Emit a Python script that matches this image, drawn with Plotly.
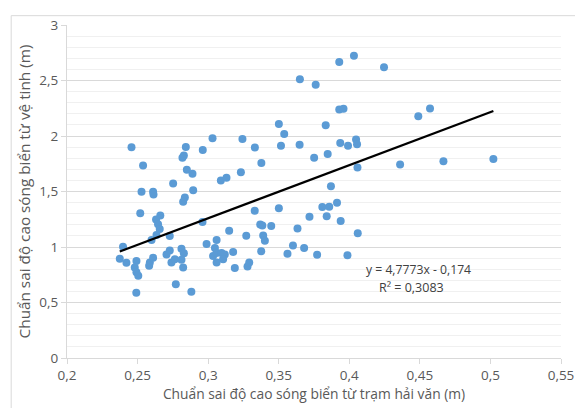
import plotly.graph_objects as go

# Observed data (station std anomaly vs satellite std anomaly)
station_sd = [
    0.2457, 0.2539, 0.2842, 0.2828, 0.2818, 0.2962, 0.2849, 0.2889, 0.2752, 0.2528,
    0.2610, 0.2613, 0.2894, 0.2835, 0.2823, 0.2519, 0.2661, 0.2631, 0.2645, 0.2657,
    0.2634, 0.2599, 0.2728, 0.2960, 0.2989, 0.2397, 0.2374, 0.2421, 0.2492, 0.2480,
    0.2492, 0.2505, 0.2587, 0.2610, 0.2582, 0.2705, 0.2728, 0.2740, 0.2764, 0.2811,
    0.2828, 0.2811, 0.2823, 0.2771, 0.2881, 0.2491, 0.3031,
    0.3243, 0.3331, 0.3501, 0.3539, 0.3516, 0.3648, 0.3751, 0.3847, 0.3377, 0.3232,
    0.3090, 0.3130, 0.3870, 0.3330, 0.3501, 0.3809, 0.3858, 0.3913, 0.3840, 0.3718,
    0.3939, 0.4060, 0.3633, 0.3369, 0.3384, 0.3447, 0.3149, 0.3390, 0.3402, 0.3270,
    0.3060, 0.3601, 0.3680, 0.3562, 0.3772, 0.3987, 0.3376, 0.3177, 0.3048, 0.3035,
    0.3060, 0.3095, 0.3118, 0.3106, 0.3060, 0.3189, 0.3279, 0.3291,
    0.3929, 0.4033, 0.4246, 0.3650, 0.3762, 0.3929, 0.3959, 0.4489, 0.4572, 0.3833,
    0.3936, 0.3991, 0.4048, 0.4055, 0.4058, 0.4360, 0.4667, 0.5021,
]
satellite_sd = [
    1.899, 1.734, 1.901, 1.825, 1.803, 1.875, 1.697, 1.660, 1.572, 1.498,
    1.498, 1.472, 1.511, 1.445, 1.408, 1.304, 1.283, 1.247, 1.206, 1.162,
    1.108, 1.064, 1.099, 1.225, 1.026, 1.003, 0.895, 0.857, 0.875, 0.816,
    0.772, 0.741, 0.860, 0.904, 0.831, 0.932, 0.969, 0.860, 0.889, 0.985,
    0.943, 0.886, 0.816, 0.664, 0.596, 0.588, 1.980,
    1.972, 1.897, 2.108, 2.018, 1.912, 1.921, 1.803, 1.838, 1.757, 1.674,
    1.599, 1.625, 1.548, 1.326, 1.348, 1.360, 1.362, 1.399, 1.276, 1.272,
    1.235, 1.123, 1.167, 1.202, 1.193, 1.190, 1.146, 1.103, 1.057, 1.101,
    1.064, 1.013, 0.991, 0.939, 0.930, 0.925, 0.962, 0.956, 0.991, 0.918,
    0.947, 0.947, 0.932, 0.889, 0.860, 0.810, 0.825, 0.860,
    2.667, 2.722, 2.620, 2.511, 2.462, 2.239, 2.246, 2.178, 2.248, 2.096,
    1.936, 1.912, 1.969, 1.925, 1.717, 1.743, 1.772, 1.792,
]

# Linear trendline as displayed on the chart
SLOPE = 4.7773
INTERCEPT = -0.174
equation_text = "y = 4,7773x - 0,174"
r2_text = "R² = 0,3083"

x_tick_vals = [0.2, 0.25, 0.3, 0.35, 0.4, 0.45, 0.5, 0.55]
x_tick_text = ["0,2", "0,25", "0,3", "0,35", "0,4", "0,45", "0,5", "0,55"]
y_tick_vals = [0, 0.5, 1, 1.5, 2, 2.5, 3]
y_tick_text = ["0", "0,5", "1", "1,5", "2", "2,5", "3"]

x_title = "Chuẩn sai độ cao sóng biển từ trạm hải văn (m)"
y_title = "Chuẩn sai độ cao sóng biển từ vệ tinh (m)"

FONT = "Open Sans, Noto Sans, DejaVu Sans, sans-serif"
TEXT_COLOR = "#595959"

x_min = min(station_sd)
x_max = max(station_sd)
trend_x = [x_min, x_max]
trend_y = [SLOPE * v + INTERCEPT for v in trend_x]

fig = go.Figure()
fig.add_trace(go.Scatter(
    x=station_sd, y=satellite_sd, mode="markers",
    marker=dict(color="#5B9BD5", size=8, line=dict(width=0)),
    showlegend=False, hoverinfo="skip",
))
fig.add_trace(go.Scatter(
    x=trend_x, y=trend_y, mode="lines",
    line=dict(color="#000000", width=2.25),
    showlegend=False, hoverinfo="skip",
))

fig.add_annotation(x=0.4487, y=0.798, xref="x", yref="y", text=equation_text,
                   showarrow=False, font=dict(family=FONT, size=12.2, color="#404040"))
fig.add_annotation(x=0.4441, y=0.634, xref="x", yref="y", text=r2_text,
                   showarrow=False, font=dict(family=FONT, size=12.5, color="#404040"))

# outer chart border
fig.add_shape(type="rect", xref="paper", yref="paper",
              x0=-0.113, x1=1.033, y0=-0.16, y1=1.028,
              line=dict(color="#d9d9d9", width=1), layer="below")

# page body has an 8px margin, so the plot area is placed to land on the reference pixels
fig.update_layout(
    width=583, height=408,
    margin=dict(l=59, r=30, t=8, b=58),
    paper_bgcolor="white", plot_bgcolor="white",
    font=dict(family=FONT, size=12, color=TEXT_COLOR),
    xaxis=dict(
        range=[0.2, 0.55], tickvals=x_tick_vals, ticktext=x_tick_text,
        showgrid=False, zeroline=False,
        showline=True, linecolor="#d9d9d9", linewidth=1,
        ticks="outside", ticklen=5, tickcolor="#d9d9d9",
        ticklabeloverflow="allow",
        tickfont=dict(family=FONT, size=13.5, color=TEXT_COLOR),
        title=dict(text=x_title, font=dict(family=FONT, size=13.8, color=TEXT_COLOR), standoff=3),
    ),
    yaxis=dict(
        range=[0, 3], tickvals=y_tick_vals, ticktext=y_tick_text,
        showgrid=True, gridcolor="#d9d9d9", gridwidth=1, zeroline=False,
        minor=dict(dtick=0.1, showgrid=True, gridcolor="#f0f0f0", gridwidth=1),
        showline=True, linecolor="#d9d9d9", linewidth=1,
        ticks="outside", ticklen=5, tickcolor="#d9d9d9",
        ticklabeloverflow="allow",
        tickfont=dict(family=FONT, size=13.5, color=TEXT_COLOR),
        title=dict(text=y_title, font=dict(family=FONT, size=15.3, color=TEXT_COLOR), standoff=5),
    ),
)

fig.write_html("out.html")
